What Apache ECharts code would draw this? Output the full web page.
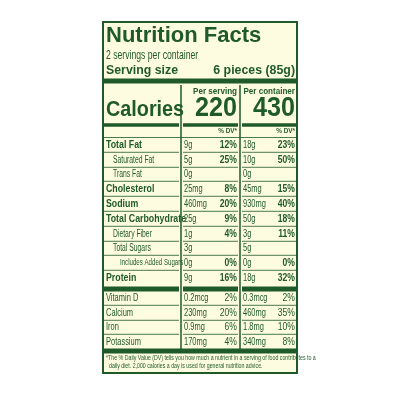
<!DOCTYPE html>
<html><head><meta charset="utf-8">
<script src="https://cdn.jsdelivr.net/npm/echarts@6/dist/echarts.min.js"></script>
<style>html,body{margin:0;background:#fff}#c{width:400px;height:400px}</style>
</head><body><div id="c"></div>
<script>
const nutrients=["Total Fat","Saturated Fat","Trans Fat","Cholesterol","Sodium","Total Carbohydrate","Dietary Fiber","Total Sugars","Includes Added Sugars","Protein","Vitamin D","Calcium","Iron","Potassium"];
const indent=[0,1,1,0,0,0,1,1,2,0,0,0,0,0];
const boldRow=[1,0,0,1,1,1,0,0,0,1,0,0,0,0];
const servAmt=["9g","5g","0g","25mg","460mg","25g","1g","3g","0g","9g","0.2mcg","230mg","0.9mg","170mg"];
const servDV=["12%","25%","","8%","20%","9%","4%","","0%","16%","2%","20%","6%","4%"];
const contAmt=["18g","10g","0g","45mg","930mg","50g","3g","5g","0g","18g","0.3mcg","460mg","1.8mg","340mg"];
const contDV=["23%","50%","","15%","40%","18%","11%","","0%","32%","2%","35%","10%","8%"];
const calories=[220,430];
const G='#1f5a2a',BG='#fdfbe0';
const L=103,R=297,X1=181,X2=240;
const g=[];
g.push({type:'rect',shape:{x:L,y:22,width:R-L,height:351},style:{fill:BG,stroke:G,lineWidth:2}});
function t(x,y,s,size,w,align,sx){g.push({type:'text',x:x,y:y,scaleX:sx||0.72,style:{text:s,fill:G,fontFamily:'Liberation Sans',fontSize:size,fontWeight:w||'normal',align:align||'left',verticalAlign:'middle'}});}
function bar(x1,x2,y,h){g.push({type:'rect',shape:{x:x1,y:y-h/2,width:x2-x1,height:h},style:{fill:G}});}
t(106,36,'Nutrition Facts',22,'bold','left',1);
t(106,56,'2 servings per container',12);
t(106,70,'Serving size',13,'bold','left',0.95);
t(295,70,'6 pieces (85g)',13,'bold','right',0.95);
bar(L,R,81,5);
g.push({type:'line',shape:{x1:X1,y1:85,x2:X1,y2:349},style:{stroke:G,lineWidth:1.5}});
g.push({type:'line',shape:{x1:X2,y1:85,x2:X2,y2:349},style:{stroke:G,lineWidth:1.5}});
t(237,91,'Per serving',9.5,'bold','right',0.85);
t(295,91,'Per container',9.5,'bold','right',0.85);
t(106,110,'Calories',22,'bold','left',0.9);
t(237,108,String(calories[0]),28,'bold','right',0.9);
t(295,108,String(calories[1]),28,'bold','right',0.9);
[[L+1,X1-2],[X1+2,X2-2],[X2+2,R-1]].forEach(s=>{bar(s[0],s[1],125,3.5);bar(s[0],s[1],289,5);});
bar(L,R,351,5);
t(237,131,'% DV*',7.5,'bold','right',0.85);
t(295,131,'% DV*',7.5,'bold','right',0.85);
const ys=[145,160,174,189,204,219,234,248,263,278,298,313,327,342];
nutrients.forEach((n,i)=>{
  const y=ys[i];
  const b=boldRow[i]?'bold':'normal';
  const fs=i>=10?11:(boldRow[i]?11:(indent[i]==2?9:10));
  t(106+indent[i]*7,y,n,fs,b,'left',boldRow[i]?0.8:0.68);
  t(184,y,servAmt[i],11,'normal','left',0.68);t(243,y,contAmt[i],11,'normal','left',0.68);
  const dw=i>=10?'normal':'bold';
  t(237,y,servDV[i],11,dw,'right',0.78);t(295,y,contDV[i],11,dw,'right',0.78);
  if(i!==9&&i!==13){const ly=y+7.3;[[L+1,X1-2],[X1+2,X2-2],[X2+2,R-1]].forEach(s=>g.push({type:'line',shape:{x1:s[0],y1:ly,x2:s[1],y2:ly},style:{stroke:G,lineWidth:0.8}}));}
});
g.push({type:'line',shape:{x1:L+1,y1:137.5,x2:R-1,y2:137.5},style:{stroke:G,lineWidth:0.8}});
t(106,358,'*The % Daily Value (DV) tells you how much a nutrient in a serving of food contributes to a',7.5,'normal','left',0.7);
t(109,366,'daily diet. 2,000 calories a day is used for general nutrition advice.',7.5,'normal','left',0.7);
const ch=echarts.init(document.getElementById('c'));
ch.setOption({animation:false,graphic:g});
</script></body></html>
